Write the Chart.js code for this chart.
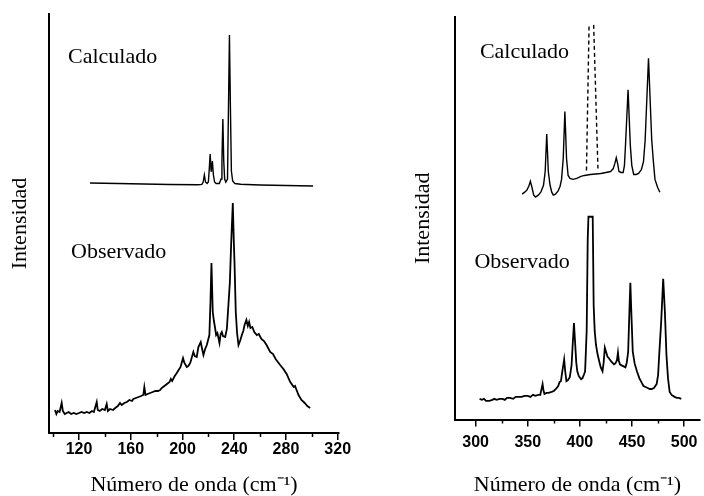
<!DOCTYPE html>
<html>
<head>
<meta charset="utf-8">
<script src="https://cdn.jsdelivr.net/npm/chart.js@4.4.0/dist/chart.umd.min.js"></script>
<style>
  html, body { margin: 0; padding: 0; background: #fff; }
  .panel { position: absolute; top: 0; width: 352px; height: 496px; }
  #leftPanel { left: 0; }
  #rightPanel { left: 352px; }
</style>
</head>
<body>
<div class="panel" id="leftPanel"><canvas id="chartLeft" width="352" height="496"></canvas></div>
<div class="panel" id="rightPanel"><canvas id="chartRight" width="352" height="496"></canvas></div>
<script>
// ---- left panel (100-320 cm-1) ----
var calcLeftX = [128.5, 150, 170, 190, 212, 215, 216, 216.9, 217.8, 219, 220, 220.6, 221.4, 222.1, 222.4, 223.1, 223.9, 224.8, 226, 228.5, 229.8, 230.5, 231.2, 231.9, 232.6, 233.5, 234.8, 235.6, 236.3, 237, 237.8, 238.8, 240.5, 245, 260, 280, 301];
var calcLeftY = [250, 249.5, 249, 248.5, 248.3, 248.6, 251, 258, 251, 249.5, 251, 262, 279, 262, 264, 272, 258, 251, 249.5, 249.5, 254, 272, 314, 272, 254, 251, 254, 330, 398, 330, 262, 252, 249.5, 248.7, 248, 247.5, 247];

var obsLeftX = [101.4, 102.5, 103.5, 105, 106.6, 107.5, 109, 110.5, 112, 114, 116, 118, 120, 122, 124, 126, 128, 130, 131.5, 133.7, 134.5, 136, 138, 140, 141.4, 142.3, 144, 146.3, 148, 150, 151.7, 153, 155, 157, 159, 161, 162, 164, 166, 168, 169.7, 170.5, 171.4, 173, 175, 177, 179, 181, 182.7, 184, 186, 188, 190, 191, 192, 194, 195.6, 197, 198.5, 200.4, 201.5, 203.3, 204.5, 206, 208.4, 209.5, 211, 212.3, 214.1, 215.2, 216.2, 217.5, 218.8, 220.8, 221.6, 222.4, 223.4, 224.3, 225.2, 226, 227, 228.6, 229.5, 230.4, 231.3, 233, 234.3, 235.5, 236.6, 237.6, 238.9, 239.6, 240.2, 241.2, 242.2, 243.3, 244.5, 245.9, 247, 248, 249.4, 250.5, 251.5, 252.5, 254, 255.5, 257.5, 259, 261, 263, 265, 267.8, 270, 272, 275.5, 278, 280.5, 283.3, 286, 287, 289.7, 292, 294.5, 296.5, 298.7];
var obsLeftY = [23, 19, 22, 21, 30, 22, 19, 20, 21, 19, 20, 19, 20, 21, 20, 21, 20, 22, 21, 31, 23, 22, 24, 23, 29, 22, 24, 23, 25, 27, 30, 28, 30, 31, 33, 32, 34, 35, 36, 37, 38, 46, 38, 39, 40, 41, 42, 42, 43, 45, 47, 49, 51, 54, 52, 57, 60, 63, 66, 75, 70, 66, 67, 70, 81, 77, 76, 86, 91, 84, 78, 84, 88, 98, 130, 170, 121, 112, 105, 98, 100, 90, 99, 101, 97, 96, 104, 128, 150, 188, 230, 195, 171, 121, 100, 88, 92, 98, 102, 108, 113, 107, 111, 105, 106, 101, 98, 99, 94, 92, 88, 81, 79, 74, 68, 64, 59, 51, 46, 47, 38, 33, 30, 27, 25];

// ---- right panel (300-500 cm-1) ----
var calcRightX = [344.6, 347, 349, 351, 352.5, 354, 355.7, 357.5, 360, 362.5, 365.1, 366.7, 368.2, 369.7, 371.4, 373, 374.5, 376.5, 379, 381, 382.4, 384, 385.6, 387.2, 388.7, 390.5, 393.4, 397, 401, 404.4, 410, 415, 420.1, 425, 429.5, 432, 433.5, 434.9, 436.2, 437.5, 439.5, 441.5, 442.7, 443.7, 446.2, 448.4, 449.8, 451.6, 454, 456.3, 459, 461, 462.6, 465.8, 468.9, 470.5, 472, 474.5, 476.7];
var calcRightY = [229, 231, 233, 237, 242, 236, 228, 226, 228, 231, 238, 252, 290, 252, 238, 231, 228, 229, 232, 237, 244, 265, 313, 265, 248, 245, 244, 245, 247, 248, 249, 249.5, 250, 251, 252, 255, 260, 266, 260, 252, 251, 251, 258, 278, 335, 278, 258, 249, 249, 250, 254, 262, 284, 367, 284, 262, 244, 236, 231];

// off-scale calculated band, drawn dashed
var dashLeftX = [406.3, 408.8];
var dashLeftY = [253, 401];
var dashRightX = [413.2, 417.3];
var dashRightY = [401, 255];

var obsRightX = [303.8, 306, 308, 310, 313.2, 316, 318, 320, 323, 325.8, 328, 330, 333, 336, 338.5, 341.5, 344, 347, 350, 352.5, 355, 357.3, 360, 362, 364.2, 365, 366, 368, 370, 372.9, 375, 377, 379.2, 380.5, 381.8, 383, 384.9, 386, 387.1, 388.5, 390.3, 392, 393.3, 394.3, 395.3, 396.5, 397.5, 399, 401.2, 402.5, 404, 405, 406.5, 407.5, 408.2, 412.3, 413.2, 414.2, 415.4, 417, 418.6, 420, 421.7, 422.8, 423.9, 425, 426.4, 428, 430, 432.7, 434, 435.5, 436.5, 437.3, 438.4, 440, 442, 443.7, 445, 446.3, 447.5, 448.4, 449.3, 450.7, 452.5, 454.7, 457, 459, 461, 463, 465, 467, 468.9, 471, 473.6, 475, 476.1, 478, 479.9, 481.5, 483, 484.5, 486.1, 488, 490.8, 493, 495, 497.2];
var obsRightY = [21, 20, 21, 19, 19, 20, 21, 20, 21, 21, 20, 22, 22, 21, 23, 23, 23, 24, 24, 23, 25, 24, 25, 25, 36, 30, 26, 27, 27, 28, 29, 31, 34, 38, 39, 48, 61, 48, 39, 40, 43, 55, 80, 98, 80, 58, 49, 44, 41, 42, 46, 49, 90, 183, 206, 206, 116, 90, 76, 66, 59, 53, 49, 58, 73, 69, 64, 62, 59, 56, 57, 60, 68, 60, 56, 55, 54, 53, 58, 69, 110, 139, 110, 69, 57, 49, 42, 38, 34, 33, 32, 31, 31, 32, 36, 45, 66, 100, 143, 110, 66, 42, 28, 25, 23, 22, 22, 21];

var xTitle = 'Número de onda (cm⁻¹)';
var yTitle = 'Intensidad';

function toPoints(xs, ys) {
  var pts = [];
  for (var i = 0; i < xs.length; i++) pts.push({ x: xs[i], y: ys[i] });
  return pts;
}

// panel captions and minor ticks on the x axis
var panelExtras = {
  id: 'panelExtras',
  afterDraw: function(chart, args, opts) {
    var ctx = chart.ctx;
    var xs = chart.scales.x, ys = chart.scales.y;
    var area = chart.chartArea;
    ctx.save();
    ctx.fillStyle = '#000';
    ctx.font = '22px "Liberation Serif", serif';
    ctx.textBaseline = 'alphabetic';
    opts.captions.forEach(function(c) {
      ctx.fillText(c.text, xs.getPixelForValue(c.x), ys.getPixelForValue(c.y));
    });
    ctx.strokeStyle = '#000';
    ctx.lineWidth = 1.5;
    var start = Math.ceil(xs.min / opts.minor) * opts.minor;
    for (var v = start; v <= xs.max; v += opts.minor) {
      if (v % opts.major === 0) continue;
      var px = Math.round(xs.getPixelForValue(v)) + 0.5;
      ctx.beginPath();
      ctx.moveTo(px, area.bottom);
      ctx.lineTo(px, area.bottom + 4);
      ctx.stroke();
    }
    ctx.restore();
  }
};

function lineSet(pts, width, dash) {
  return {
    data: pts,
    borderColor: '#000',
    borderWidth: width,
    borderDash: dash || [],
    pointRadius: 0,
    fill: false,
    tension: 0
  };
}

function makeChart(id, cfg) {
  var ctx = document.getElementById(id).getContext('2d');
  return new Chart(ctx, {
    type: 'line',
    data: { datasets: cfg.datasets },
    options: {
      responsive: false,
      animation: false,
      layout: { padding: cfg.padding },
      plugins: {
        legend: { display: false },
        tooltip: { enabled: false },
        panelExtras: { captions: cfg.captions, minor: cfg.minor, major: cfg.major }
      },
      scales: {
        x: {
          type: 'linear',
          min: cfg.xMin,
          max: cfg.xMax,
          border: { display: true, color: '#000', width: 2 },
          grid: { display: true, drawOnChartArea: false, drawTicks: true, tickLength: 7, color: '#000', lineWidth: 1.5 },
          ticks: {
            stepSize: cfg.major,
            includeBounds: false,
            autoSkip: false,
            maxRotation: 0,
            color: '#000',
            padding: cfg.tickPad,
            font: { family: 'Liberation Sans', weight: 'bold', size: 16 }
          },
          title: {
            display: true,
            text: xTitle,
            color: '#000',
            font: { family: 'Liberation Serif', size: 22, lineHeight: 1 },
            padding: { top: cfg.xTitleTop, bottom: 0 }
          }
        },
        y: {
          min: 0,
          max: cfg.yMax,
          border: { display: true, color: '#000', width: 2 },
          grid: { display: false, drawTicks: false },
          ticks: { display: false },
          title: {
            display: true,
            text: yTitle,
            color: '#000',
            font: { family: 'Liberation Serif', size: 22, lineHeight: 1.2 },
            padding: cfg.yTitlePad
          }
        }
      }
    },
    plugins: [panelExtras]
  });
}

makeChart('chartLeft', {
  datasets: [
    lineSet(toPoints(calcLeftX, calcLeftY), 1.4),
    lineSet(toPoints(obsLeftX, obsLeftY), 1.8)
  ],
  padding: { left: 0, top: 14, right: 13, bottom: 0 },
  xMin: 96.8, xMax: 321, yMax: 419,
  major: 40, minor: 20,
  tickPad: 0, xTitleTop: 14.8,
  yTitlePad: { top: 6.8, bottom: 15.8 },
  captions: [
    { text: 'Calculado', x: 111.5, y: 370 },
    { text: 'Observado', x: 113.8, y: 175 }
  ]
});

makeChart('chartRight', {
  datasets: [
    lineSet(toPoints(calcRightX, calcRightY), 1.4),
    lineSet(toPoints(dashLeftX, dashLeftY), 1.4, [4, 3]),
    lineSet(toPoints(dashRightX, dashRightY), 1.4, [4, 3]),
    lineSet(toPoints(obsRightX, obsRightY), 1.8)
  ],
  padding: { left: 0, top: 17, right: 0, bottom: 0 },
  xMin: 280.2, xMax: 515, yMax: 409,
  major: 50, minor: 25,
  tickPad: 6.5, xTitleTop: 15.3,
  yTitlePad: { top: 58.3, bottom: 18.3 },
  captions: [
    { text: 'Calculado', x: 304.1, y: 367.7 },
    { text: 'Observado', x: 298.8, y: 154.3 }
  ]
});
</script>
</body>
</html>
